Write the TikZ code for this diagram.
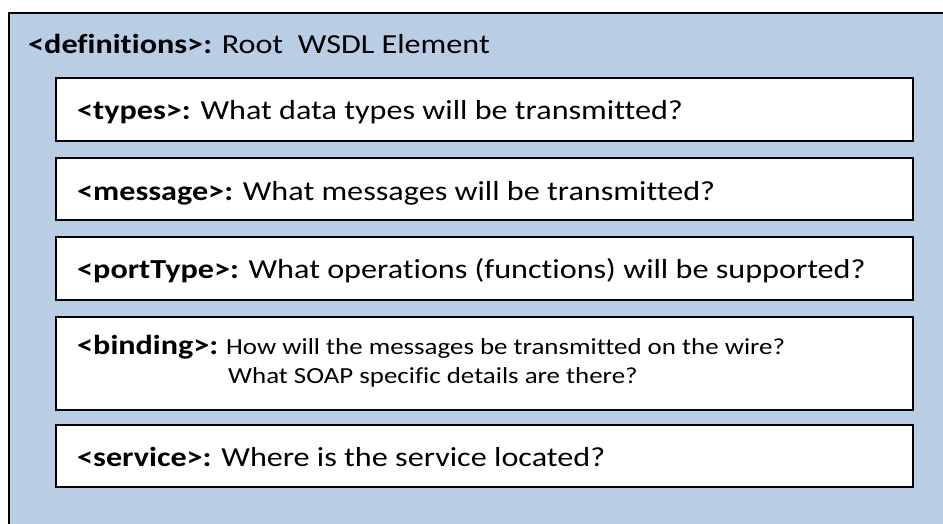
\documentclass[tikz,border=0pt]{standalone}
\usepackage{fontspec}
\setmainfont[Ligatures=NoCommon,FakeStretch=1.17]{Carlito}
\definecolor{rootblue}{HTML}{B9CDE5}
\begin{document}
\begin{tikzpicture}[x=1pt,y=-1pt,
  elembox/.style={draw=black,line width=2.2pt,fill=white},
  tagtext/.style={anchor=base west,inner sep=0pt,font=\fontsize{27.5}{32}\selectfont},
  smalltext/.style={anchor=base west,inner sep=0pt,font=\fontsize{23}{27}\selectfont}]
  \useasboundingbox (0,0) rectangle (943,523);
  \begin{scope}
    \clip (0,0) rectangle (943,523);
    % root definitions element
    \draw[draw=black,line width=2pt,fill=rootblue] (9,13) rectangle (960,540);
  \end{scope}
  \node[tagtext] (defs) at (28,53) {\textbf{<definitions>:} Root\ \ WSDL Element};
  % child elements
  \draw[elembox] (56,78) rectangle (913,141);
  \node[tagtext] (types) at (77,119) {\textbf{<types>:} What data types will be transmitted?};
  \draw[elembox] (56,158) rectangle (913,220);
  \node[tagtext] (msg) at (77,200) {\textbf{<message>:} What messages will be transmitted?};
  \draw[elembox] (56,237) rectangle (913,300);
  \node[tagtext] (port) at (77,278) {\textbf{<portType>:} What operations (functions) will be supported?};
  \draw[elembox] (56,317) rectangle (913,410);
  \node[tagtext] (bind) at (77,354) {\textbf{<binding>:}};
  \node[smalltext] (bind1) at (226,354) {How will the messages be transmitted on the wire?};
  \node[smalltext] (bind2) at (228,383) {What SOAP specific details are there?};
  \draw[elembox] (56,425) rectangle (913,487);
  \node[tagtext] (svc) at (77,466) {\textbf{<service>:} Where is the service located?};
\end{tikzpicture}
\end{document}
